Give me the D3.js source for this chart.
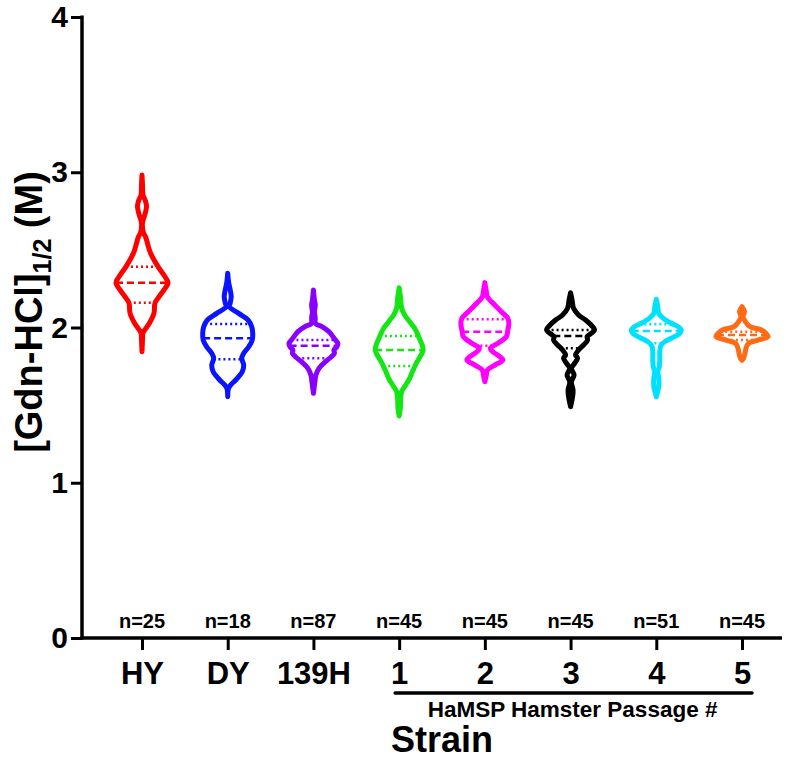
<!DOCTYPE html>
<html>
<head>
<meta charset="utf-8">
<script src="https://cdn.jsdelivr.net/npm/d3@7"></script>
<style>
  html, body { margin: 0; padding: 0; background: #fff; }
  svg text { font-family: "Liberation Sans", Arial, sans-serif; font-weight: bold; }
</style>
</head>
<body>
<svg id="chart" width="800" height="761"></svg>
<script>
// ---------------- DATA ----------------
const categories = ["HY", "DY", "139H", "1", "2", "3", "4", "5"];
const nLabels = ["n=25", "n=18", "n=87", "n=45", "n=45", "n=45", "n=51", "n=45"];
const colors = ["#ff0000", "#0a14ff", "#8a00ff", "#14e614", "#ff00ff", "#000000", "#00e1ff", "#ff6a14"];
const yTicks = [0, 1, 2, 3, 4];
const medians = [2.289, 1.930, 1.883, 1.855, 1.973, 1.945, 1.977, 1.952];
const q1s     = [2.160, 1.795, 1.802, 1.752, 1.883, 1.866, 1.898, 1.919];
const q3s     = [2.392, 2.023, 1.919, 1.945, 2.053, 1.984, 2.021, 1.973];

// violin profiles: [Gdn-HCl value (M), relative density]
const densHY = [[2.982,0],[2.92,0.5],[2.853,1],[2.815,3.5],[2.778,4.5],[2.73,3],[2.673,0.5],[2.609,1.5],[2.585,3.5],[2.48,8.5],[2.392,16],[2.327,23],[2.289,26],[2.242,22],[2.198,17],[2.158,13],[2.093,12],[2.029,7.5],[1.965,1],[1.93,0.6],[1.844,0]];
const densDY = [[2.349,0],[2.287,1],[2.242,2.5],[2.198,3.5],[2.158,2.5],[2.134,1.5],[2.091,11],[2.048,20.5],[2.005,24],[1.965,25],[1.919,24.5],[1.876,21],[1.834,16],[1.802,14],[1.758,16],[1.715,14.5],[1.662,8],[1.63,3],[1.608,0.8],[1.554,0]];
const dens139H = [[2.242,0],[2.177,1],[2.145,1.8],[2.1,1],[2.061,1.8],[2.027,2],[2.005,8.5],[1.973,15.5],[1.941,19.5],[1.919,22],[1.898,24.5],[1.876,23.5],[1.855,20.5],[1.834,21],[1.812,18],[1.78,12],[1.737,5.5],[1.694,2.5],[1.651,1.5],[1.576,0]];
const densP1 = [[2.256,0],[2.188,1.5],[2.124,2.5],[2.081,5.5],[2.037,10.5],[1.995,15.5],[1.941,19.5],[1.887,23],[1.855,24],[1.823,22],[1.78,18],[1.726,14],[1.673,10.5],[1.619,5.5],[1.587,2.5],[1.533,1.5],[1.481,1.2],[1.43,0]];
const densP2 = [[2.289,0],[2.231,1.5],[2.198,2.5],[2.145,10],[2.102,16.5],[2.059,23],[2.027,24],[1.984,23],[1.941,21.5],[1.898,13],[1.866,5.5],[1.844,8],[1.812,15],[1.791,18],[1.758,10],[1.726,2.5],[1.694,1.5],[1.651,0]];
const densP3 = [[2.224,0],[2.177,1.5],[2.124,3],[2.081,8],[2.048,15],[2.016,20.5],[1.984,24],[1.962,20.5],[1.941,16.5],[1.919,17],[1.887,13],[1.855,8],[1.823,5],[1.802,7],[1.769,4],[1.737,0.8],[1.694,3.5],[1.651,0.8],[1.597,2.5],[1.554,2],[1.49,0]];
const densP4 = [[2.182,0],[2.134,1.5],[2.091,2.5],[2.059,7],[2.027,15],[2.005,22],[1.984,25],[1.962,23.5],[1.937,17],[1.909,8.5],[1.881,4.5],[1.844,3.5],[1.791,3.5],[1.748,3],[1.713,1.5],[1.675,2.5],[1.619,2.5],[1.591,1.5],[1.554,0]];
const densP5 = [[2.134,0],[2.102,2.5],[2.07,1],[2.037,3.5],[2.005,8],[1.984,19.5],[1.962,24],[1.941,26],[1.919,16],[1.898,6.5],[1.866,4],[1.834,3],[1.802,1.5],[1.79,0]];
const profiles = [densHY, densDY, dens139H, densP1, densP2, densP3, densP4, densP5];

// ---------------- CHART ----------------
const svg = d3.select("#chart");
const axisLeftX = 82, axisRightX = 782;

const y = d3.scaleLinear().domain([0, 4]).range([638, 17]);
const x = d3.scalePoint().domain(categories).range([142, 742]);
const w = d3.scaleLinear().domain([0, 26]).range([0, 26]);

// violins
categories.forEach((c, i) => {
  const prof = profiles[i];
  const cx = x(c);
  const col = colors[i];
  const area = d3.area()
    .y(d => y(d[0]))
    .x0(d => cx - w(d[1]))
    .x1(d => cx + w(d[1]))
    .curve(d3.curveCatmullRom.alpha(0.5));
  const g = svg.append("g");
  g.append("path").attr("d", area(prof)).attr("fill", "#fff").attr("stroke", "none");

  const halfW = v => {
    const s = prof.slice().sort((a, b) => a[0] - b[0]);
    for (let k = 0; k < s.length - 1; k++) {
      if (v >= s[k][0] && v <= s[k + 1][0]) {
        const t = (v - s[k][0]) / (s[k + 1][0] - s[k][0]);
        return w(s[k][1] + t * (s[k + 1][1] - s[k][1]));
      }
    }
    return 0;
  };
  [[q3s[i], "2,3"], [medians[i], "7,4"], [q1s[i], "2,3"]].forEach(([v, dash]) => {
    const hw = halfW(v);
    g.append("line")
      .attr("x1", cx - hw).attr("x2", cx + hw)
      .attr("y1", y(v)).attr("y2", y(v))
      .attr("stroke", col).attr("stroke-width", 2.5)
      .attr("stroke-dasharray", dash);
  });
  g.append("path").attr("d", area(prof)).attr("fill", "none")
    .attr("stroke", col).attr("stroke-width", 5)
    .attr("stroke-linejoin", "round").attr("stroke-linecap", "round");
});

// y axis
const yAxis = d3.axisLeft(y).tickValues(yTicks).tickFormat(d3.format("d")).tickSize(11).tickPadding(3);
const gy = svg.append("g").attr("transform", `translate(${axisLeftX},0)`).call(yAxis);
gy.select(".domain").remove();
gy.selectAll(".tick line").attr("stroke", "#000").attr("stroke-width", 3);
gy.selectAll(".tick text").attr("font-size", 30).attr("font-family", "Liberation Sans, Arial, sans-serif").attr("font-weight", "bold").attr("fill", "#000");
svg.append("line").attr("x1", axisLeftX).attr("x2", axisLeftX).attr("y1", y(4) - 1.5).attr("y2", y(0) + 1.5)
  .attr("stroke", "#000").attr("stroke-width", 3.5);

// x axis
const xAxis = d3.axisBottom(x).tickSize(12).tickPadding(12);
const gx = svg.append("g").attr("transform", `translate(0,${y(0)})`).call(xAxis);
gx.select(".domain").remove();
gx.selectAll(".tick line").attr("stroke", "#000").attr("stroke-width", 3);
gx.selectAll(".tick text").attr("font-size", 31).attr("font-family", "Liberation Sans, Arial, sans-serif").attr("font-weight", "bold").attr("fill", "#000");
svg.append("line").attr("x1", axisLeftX - 1.5).attr("x2", axisRightX).attr("y1", y(0)).attr("y2", y(0))
  .attr("stroke", "#000").attr("stroke-width", 3.5);

// n labels
svg.selectAll("text.nlab").data(categories).enter().append("text")
  .attr("class", "nlab")
  .attr("x", d => x(d)).attr("y", 628)
  .attr("text-anchor", "middle").attr("font-size", 20)
  .text((d, i) => nLabels[i]);

// bracket under passages
svg.append("line").attr("x1", x("1") - 4).attr("x2", x("5") + 10)
  .attr("y1", 693).attr("y2", 693)
  .attr("stroke", "#000").attr("stroke-width", 3.5).attr("stroke-linecap", "round");
svg.append("text").attr("x", (x("1") + x("5")) / 2 + 2).attr("y", 717)
  .attr("text-anchor", "middle").attr("font-size", 22.5)
  .text("HaMSP Hamster Passage #");

// x title
svg.append("text").attr("x", 442).attr("y", 752)
  .attr("text-anchor", "middle").attr("font-size", 36)
  .text("Strain");

// y title
const yt = svg.append("text")
  .attr("transform", "translate(42,312) rotate(-90)")
  .attr("text-anchor", "middle").attr("font-size", 38);
yt.append("tspan").text("[Gdn-HCl]");
yt.append("tspan").attr("font-size", 25).attr("dy", 9).text("1/2");
yt.append("tspan").attr("dy", -9).text(" (M)");
</script>
</body>
</html>
